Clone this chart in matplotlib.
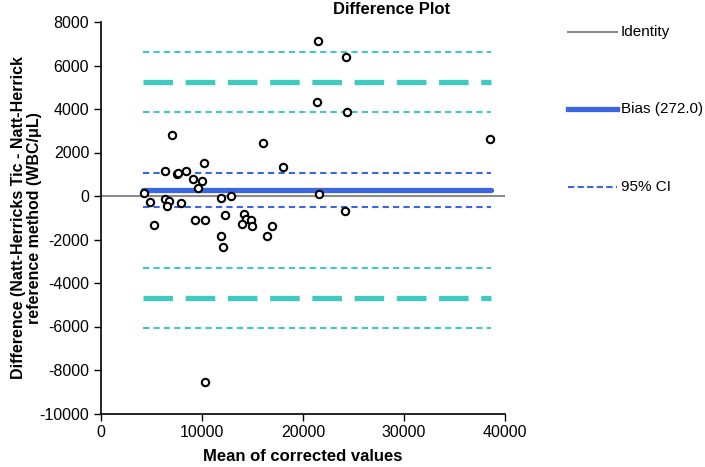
import matplotlib
matplotlib.use("Agg")
import matplotlib.pyplot as plt
from matplotlib.lines import Line2D
import numpy as np

plt.rcParams['font.family'] = ['Liberation Sans', 'DejaVu Sans']
plt.rcParams['axes.unicode_minus'] = False

# Data: mean of corrected values (x) and difference (y)
mean_vals = [7005, 16060, 10240, 18040, 6375, 7500, 7600, 8395, 9120, 10010,
             9585, 4295, 4825, 6345, 6740, 6510, 7900, 11895, 12920, 5285,
             9350, 10340, 12260, 14110, 14310, 14840, 13980, 14970, 16980, 11895,
             16390, 12095, 21580, 24160, 38490, 21445, 24220, 21400, 24400, 10270]
diff_vals = [2805, 2423, 1531, 1320, 1135, 1000, 1060, 1135, 797, 674,
             352, 153, -276, -123, -230, -460, -306, -77, -15, -1318,
             -1104, -1088, -874, -812, -1058, -1119, -1303, -1380, -1364, -1855,
             -1824, -2345, 77, -674, 2621, 7127, 6376, 4330, 3850, -8560]

bias = 272.0
bias_ci = [1072, -528]
loa = [5240, -4696]
loa_ci = [6630, 3850, -3306, -6086]

x_ticks = [0, 10000, 20000, 30000, 40000]
y_ticks = list(range(-10000, 8001, 2000))

teal = '#3ec9c1'
blue = '#3a66e0'
gray = '#8c8c8c'

fig = plt.figure(figsize=(7.05, 4.67), dpi=100)
ax = fig.add_axes([101/705, 1 - 413.5/467, (505-101)/705, (413.5-22)/467])

xmin, xmax = min(mean_vals) - 130, max(mean_vals) + 170

ax.axhline(0, color=gray, lw=1.5, zorder=1)
for v in loa_ci:
    ax.plot([xmin, xmax], [v, v], color=teal, lw=1.5, ls=(0, (3, 2)), zorder=2)
for v in loa:
    ax.plot([xmin, xmax], [v, v], color=teal, lw=3.8, ls=(0, (5.6, 2.4)), zorder=2)
for v in bias_ci:
    ax.plot([xmin, xmax], [v, v], color=blue, lw=1.5, ls=(0, (3, 2)), zorder=2)
ax.plot([xmin, xmax], [bias, bias], color=blue, lw=3.8, solid_capstyle='round', zorder=2)

ax.scatter(mean_vals, diff_vals, s=28, facecolors='white', edgecolors='black',
           linewidths=1.5, zorder=3)

ax.set_xlim(0, 40000)
ax.set_ylim(-10000, 8000)
ax.set_xticks(x_ticks)
ax.set_yticks(y_ticks)
ax.tick_params(direction='out', length=5, width=1, labelsize=11.5, colors='black')
for s in ['top', 'right']:
    ax.spines[s].set_visible(False)
for s in ['left', 'bottom']:
    ax.spines[s].set_linewidth(1.2)

ax.set_xlabel('Mean of corrected values', fontsize=12, fontweight='bold', labelpad=6)
ax.set_ylabel('Difference (Natt-Herricks Tic - Natt-Herrick\nreference method (WBC/μL)',
              fontsize=11.5, fontweight='bold', linespacing=1.05)
ax.yaxis.set_label_coords((42 - 101) / 404, 0.5)

fig.text(392/705, 1 - 9/467, 'Difference Plot', ha='center', va='center',
         fontsize=12, fontweight='bold')

# Legend drawn manually in figure coordinates
leg_items = [('Identity', gray, 1.5, '-', 32),
             ('Bias (272.0)', blue, 3.8, '-', 109),
             ('95% CI', blue, 1.5, (0, (3, 1.6)), 187)]
for label, c, lw, ls, ypx in leg_items:
    yf = 1 - ypx/467
    fig.add_artist(Line2D([568/705, 617/705], [yf, yf], color=c, lw=lw, ls=ls,
                          transform=fig.transFigure))
    fig.text(621/705, yf, label, ha='left', va='center', fontsize=11)

fig.savefig('out.png', dpi=100)
